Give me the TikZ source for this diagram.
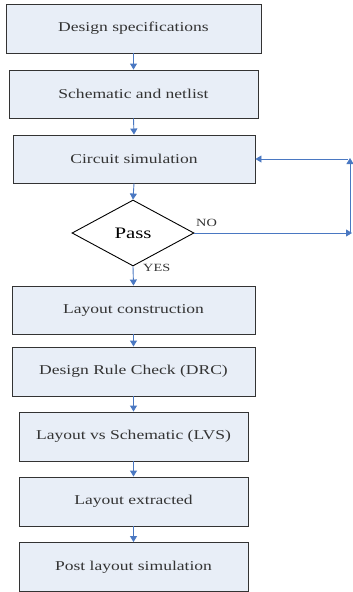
\documentclass[tikz,border=0pt]{standalone}
\usepackage{fontspec}
\setmainfont{Liberation Serif}
\usetikzlibrary{shapes.geometric,arrows.meta}
\definecolor{boxfill}{HTML}{E8EEF7}
\definecolor{arrowblue}{HTML}{4A78C2}
\definecolor{edgegray}{HTML}{333333}
\newcommand{\stx}[1]{\scalebox{1.3}[1]{#1}}
\tikzset{
  stepbox/.style={draw=edgegray,line width=0.9pt,fill=boxfill,rectangle,inner sep=0pt,
    font=\fontsize{13.5}{15}\selectfont,text=black!80},
  decide/.style={draw=black,line width=0.9pt,fill=white,diamond,inner sep=0pt,aspect=1.85,
    minimum width=122pt,minimum height=66pt,font=\fontsize{16}{18}\selectfont},
  flow/.style={draw=arrowblue,line width=0.9pt,-{Triangle[length=6pt,width=7pt]}},
  lbl/.style={font=\fontsize{11}{12}\selectfont,text=black!80,inner sep=0pt}
}
\begin{document}
\begin{tikzpicture}[x=1pt,y=-1pt]
\useasboundingbox (0,0) rectangle (353,592);
\node[stepbox,minimum width=255pt,minimum height=49pt] (s1) at (133.5,28.5) {\stx{Design specifications}};
\node[stepbox,minimum width=249pt,minimum height=48pt] (s2) at (133.5,94) {\stx{Schematic and netlist}};
\node[stepbox,minimum width=242pt,minimum height=48pt] (s3) at (134,159) {\stx{Circuit simulation}};
\node[decide] (d) at (133,233) {\stx{Pass}};
\node[stepbox,minimum width=243pt,minimum height=48pt] (s4) at (133.5,310) {\stx{Layout construction}};
\node[stepbox,minimum width=243pt,minimum height=49pt] (s5) at (133.5,371.5) {\stx{Design Rule Check (DRC)}};
\node[stepbox,minimum width=229pt,minimum height=49pt] (s6) at (133.5,436.5) {\stx{Layout vs Schematic (LVS)}};
\node[stepbox,minimum width=229pt,minimum height=49pt] (s7) at (133.5,501.5) {\stx{Layout extracted}};
\node[stepbox,minimum width=229pt,minimum height=49pt] (s8) at (133.5,567) {\stx{Post layout simulation}};
\node[lbl,anchor=west] (no) at (196,223) {\stx{NO}};
\node[lbl,anchor=west] (yes) at (143,268) {\stx{YES}};
\coordinate (r1) at (352,233);
\coordinate (v0) at (350,233);
\coordinate (v1) at (350,158);
\coordinate (h1) at (348,159);
\draw[flow] (s1.south) -- (s2.north);
\draw[flow] (s2.south) -- (s3.north);
\draw[flow] (s3.south) -- (d.north);
\draw[flow] (d.south) -- (s4.north);
\draw[flow] (s4.south) -- (s5.north);
\draw[flow] (s5.south) -- (s6.north);
\draw[flow] (s6.south) -- (s7.north);
\draw[flow] (s7.south) -- (s8.north);
\draw[flow] (d.east) -- (r1);
\draw[flow] (v0) -- (v1);
\draw[flow] (h1) -- (s3.east);
\end{tikzpicture}
\end{document}
